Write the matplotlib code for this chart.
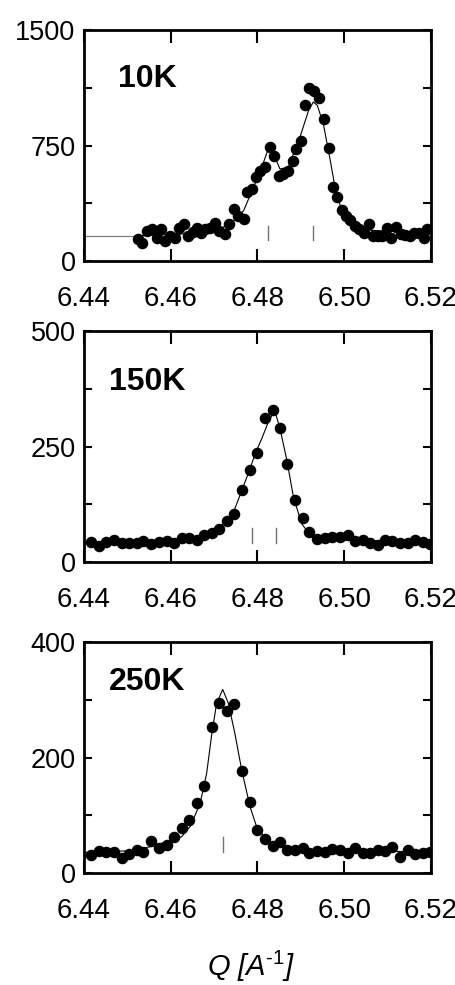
import matplotlib
matplotlib.use("Agg")
import matplotlib.pyplot as plt

plt.rcParams['font.family'] = ['Liberation Sans', 'DejaVu Sans']
plt.rcParams['mathtext.fontset'] = 'custom'
plt.rcParams['mathtext.rm'] = 'Liberation Sans'
plt.rcParams['mathtext.it'] = 'Liberation Sans:italic'
plt.rcParams['mathtext.default'] = 'it'

# ---- 10K ----
q_10 = [6.4525, 6.4535, 6.4545, 6.4556, 6.4568, 6.4577, 6.4587, 6.4598, 6.4610, 6.4620,
        6.4631, 6.4641, 6.4651, 6.4660, 6.4669, 6.4680, 6.4691, 6.4702, 6.4712, 6.4725,
        6.4735, 6.4745, 6.4756, 6.4768, 6.4775, 6.4787, 6.4796, 6.4806, 6.4818, 6.4828,
        6.4838, 6.4850, 6.4860, 6.4871, 6.4881, 6.4889, 6.4900, 6.4910, 6.4920, 6.4931,
        6.4943, 6.4954, 6.4964, 6.4975, 6.4984, 6.4995, 6.5004, 6.5014, 6.5024, 6.5035,
        6.5046, 6.5057, 6.5066, 6.5077, 6.5087, 6.5098, 6.5109, 6.5120, 6.5131, 6.5141,
        6.5152, 6.5161, 6.5172, 6.5183, 6.5192]
i_10 = [141, 120, 196, 207, 152, 207, 130, 163, 152, 217,
        239, 163, 191, 217, 185, 207, 213, 250, 196, 174,
        239, 341, 293, 272, 446, 467, 543, 587, 609, 739,
        685, 554, 565, 587, 652, 728, 778, 1011, 1124, 1104,
        1059, 920, 733, 483, 413, 330, 293, 267, 228, 207,
        185, 243, 163, 163, 163, 217, 152, 222, 174, 167,
        163, 185, 185, 148, 207]
fit_q_10 = [6.4400, 6.4521, 6.4621, 6.4714, 6.4745, 6.4768, 6.4791, 6.4810, 6.4825, 6.4837,
            6.4852, 6.4871, 6.4898, 6.4918, 6.4929, 6.4938, 6.4952, 6.4968, 6.4979, 6.4991,
            6.5006, 6.5029, 6.5060, 6.5121, 6.5200]
fit_i_10 = [163, 163, 174, 207, 261, 326, 478, 609, 728, 696,
            598, 609, 804, 978, 1033, 1011, 891, 652, 478, 359,
            283, 228, 200, 191, 185]
bragg_10 = [6.4824, 6.4929]

# ---- 150K ----
q_150 = [6.4416, 6.4435, 6.4452, 6.4469, 6.4487, 6.4505, 6.4522, 6.4537, 6.4555, 6.4573,
         6.4591, 6.4608, 6.4625, 6.4643, 6.4660, 6.4677, 6.4695, 6.4712, 6.4729, 6.4747,
         6.4765, 6.4783, 6.4800, 6.4818, 6.4835, 6.4852, 6.4869, 6.4887, 6.4904, 6.4920,
         6.4938, 6.4956, 6.4973, 6.4991, 6.5008, 6.5025, 6.5043, 6.5060, 6.5077, 6.5094,
         6.5111, 6.5129, 6.5147, 6.5164, 6.5181, 6.5198]
i_150 = [43, 34, 43, 47, 41, 42, 41, 46, 38, 43,
         45, 42, 52, 52, 47, 59, 63, 72, 88, 105,
         157, 200, 235, 312, 330, 291, 213, 134, 95, 65,
         49, 51, 54, 54, 59, 45, 47, 42, 36, 47,
         45, 41, 41, 47, 43, 38]
fit_q_150 = [6.4400, 6.4621, 6.4698, 6.4714, 6.4745, 6.4764, 6.4783, 6.4795, 6.4810, 6.4825,
             6.4835, 6.4843, 6.4852, 6.4868, 6.4883, 6.4902, 6.4925, 6.4960, 6.5200]
fit_i_150 = [43, 47, 61, 76, 108, 155, 202, 235, 267, 303,
             320, 318, 289, 220, 141, 83, 54, 48, 43]
bragg_150 = [6.4788, 6.4842]

# ---- 250K ----
q_250 = q_150
i_250 = [32, 39, 37, 36, 27, 33, 41, 36, 56, 44,
         49, 63, 79, 92, 121, 151, 253, 294, 280, 292,
         177, 124, 75, 60, 47, 55, 41, 40, 43, 35,
         39, 36, 42, 40, 35, 43, 35, 35, 40, 39,
         46, 29, 41, 33, 35, 37]
fit_q_250 = [6.4400, 6.4506, 6.4560, 6.4591, 6.4625, 6.4645, 6.4668, 6.4683, 6.4695, 6.4706,
             6.4720, 6.4733, 6.4748, 6.4764, 6.4783, 6.4798, 6.4821, 6.4837, 6.4891, 6.5006,
             6.5200]
fit_i_250 = [36, 39, 47, 55, 63, 81, 121, 173, 242, 294,
             318, 294, 242, 178, 115, 81, 58, 49, 41, 39,
             37]
bragg_250 = [6.4721]

panels = [
    ("10K", q_10, i_10, fit_q_10, fit_i_10, bragg_10, (135, 228), 1500, 375,
     [0.184, 0.735, 0.761, 0.2345], (0.098, 0.79)),
    ("150K", q_150, i_150, fit_q_150, fit_i_150, bragg_150, (42, 74), 500, 125,
     [0.184, 0.4294, 0.761, 0.2345], (0.072, 0.779)),
    ("250K", q_250, i_250, fit_q_250, fit_i_250, bragg_250, (36, 62), 400, 100,
     [0.184, 0.1134, 0.761, 0.2348], (0.073, 0.827)),
]

fig = plt.figure(figsize=(4.56, 9.85), dpi=100)

for k, (name, q, inten, fq, fi, bragg, blim, ymax, ystep, rect, lpos) in enumerate(panels):
    ax = fig.add_axes(rect)
    if k == 0:
        # flat part of the fit before the data starts is drawn grey
        ax.plot(fq[:2], fi[:2], color='0.5', lw=0.9, zorder=2)
        ax.plot(fq[1:], fi[1:], color='black', lw=0.8, zorder=2)
    else:
        ax.plot(fq, fi, color='black', lw=0.8, zorder=2)
    ax.plot(q, inten, 'o', color='black', ms=7.3, zorder=3)
    for b in bragg:
        ax.plot([b, b], blim, color='0.45', lw=1.0, zorder=1)

    ax.set_xlim(6.44, 6.52)
    ax.set_ylim(0, ymax)
    ax.set_xticks([6.44, 6.46, 6.48, 6.50, 6.52])
    ax.set_xticklabels(['6.44', '6.46', '6.48', '6.50', '6.52'])
    yt = [0, ystep, 2 * ystep, 3 * ystep, 4 * ystep]
    ax.set_yticks(yt)
    ax.set_yticklabels([str(yt[0]), '', str(yt[2]), '', str(yt[4])])

    ax.tick_params(axis='x', direction='in', top=True, bottom=True, length=9, width=1.5,
                   labelsize=20, pad=18)
    ax.tick_params(axis='y', direction='in', left=True, right=True, length=5.5, width=1.5,
                   labelsize=19.5, pad=6)
    for s in ax.spines.values():
        s.set_linewidth(2)

    ax.text(lpos[0], lpos[1], name, transform=ax.transAxes, fontsize=23,
            fontweight='bold', ha='left', va='center')

fig.text(0.55, 0.0185, 'Q [A$^{\u2010 1}$]', ha='center', va='center', fontsize=21, style='italic')

fig.savefig('out.png', dpi=100)
